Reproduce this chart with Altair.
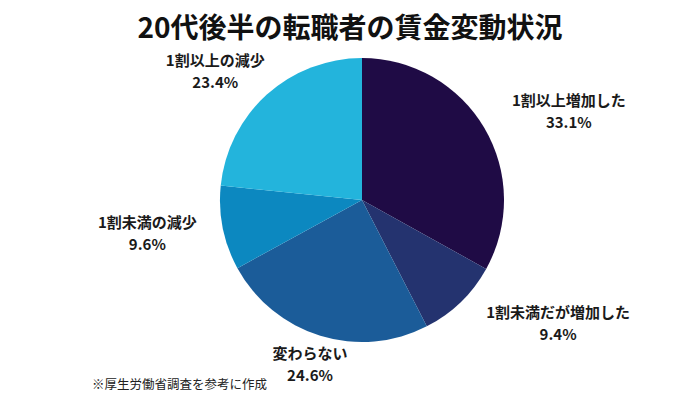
import altair as alt
import pandas as pd

categories = ["1割以上増加した", "1割未満だが増加した", "変わらない", "1割未満の減少", "1割以上の減少"]
values = [33.1, 9.4, 24.6, 9.6, 23.4]
colors = ["#1f0b45", "#24336f", "#1b5c99", "#0c88c0", "#23b4dc"]
title_text = "20代後半の転職者の賃金変動状況"
note_text = "※厚生労働省調査を参考に作成"

df = pd.DataFrame({"category": categories, "value": values, "order": list(range(len(categories)))})
FONT = "Noto Sans CJK JP"
CX, CY, R = 354, 120, 142

base = alt.Chart(df).encode(
    order=alt.Order("order:Q"),
    x=alt.value(CX),
    y=alt.value(CY),
)

pie = base.mark_arc(outerRadius=R, stroke=None).encode(
    theta=alt.Theta("value:Q", stack=True),
    color=alt.Color("category:N", scale=alt.Scale(domain=categories, range=colors), legend=None),
)

labels = base.transform_joinaggregate(
    total="sum(value)"
).transform_window(
    cum="sum(value)", sort=[alt.SortField("order")], frame=[None, 0]
).transform_calculate(
    t="2*PI*(datum.cum - datum.value/2)/datum.total",
    a="72 + 21*length(datum.category)",
).transform_calculate(
    lx="datum.a*sin(datum.t)",
    ly="173*cos(datum.t)",
).transform_calculate(
    lt="atan2(datum.lx, datum.ly)",
    lr="sqrt(datum.lx*datum.lx + datum.ly*datum.ly)",
    label="datum.category + '\\n' + format(datum.value, '.1f') + '%'",
).mark_text(
    font=FONT, fontSize=15, fontWeight="bold", color="#1a1a1a",
    lineBreak="\n", lineHeight=22, align="center", baseline="middle", dy=-11
).encode(
    theta=alt.Theta("lt:Q", scale=None),
    radius=alt.Radius("lr:Q", scale=None),
    text="label:N",
)

note = alt.Chart(pd.DataFrame({"t": [note_text]})).mark_text(
    font=FONT, fontSize=12.5, color="#222222", align="left", baseline="middle"
).encode(text="t:N", x=alt.value(84), y=alt.value(305))

chart = alt.layer(pie, labels, note).properties(
    width=684, height=300,
    padding={"left": 0, "top": 7, "right": 0, "bottom": 0},
    autosize=alt.AutoSizeParams(type="pad"),
    title=alt.Title(title_text, font=FONT, fontSize=28, fontWeight="bold", color="#111111", anchor="middle", offset=10),
).configure_view(stroke=None)

chart.save("out.html", embed_options={"renderer": "svg", "actions": False})
